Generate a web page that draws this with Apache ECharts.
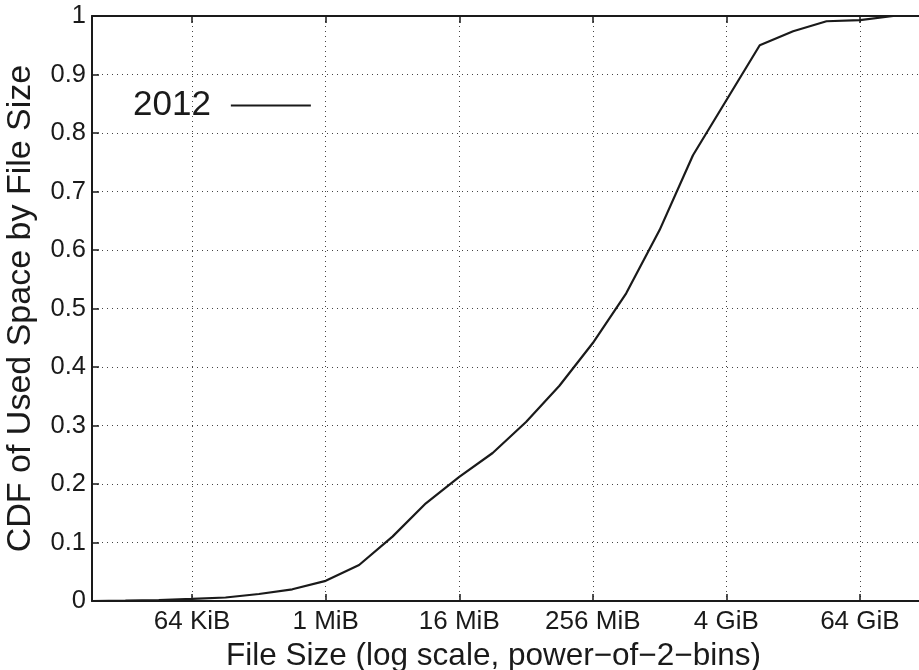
<!DOCTYPE html>
<html>
<head>
<meta charset="utf-8">
<script src="https://cdn.jsdelivr.net/npm/echarts@6/dist/echarts.min.js"></script>
<style>
  html, body { margin: 0; padding: 0; background: #fff; }
  #chart { width: 919px; height: 670px; }
</style>
</head>
<body>
<div id="chart"></div>
<script>
// File size bins as power-of-2 exponents (bytes = 2^exp)
const sizeExp = [13, 14, 15, 16, 17, 18, 19, 20, 21, 22, 23, 24, 25, 26, 27, 28, 29, 30, 31, 32, 33, 34, 35, 36, 37];
// CDF of used space by file size, 2012
const cdf2012 = [0, 0.0005, 0.0015, 0.0035, 0.006, 0.012, 0.020, 0.0345, 0.0615, 0.110, 0.167, 0.212, 0.253, 0.306, 0.368, 0.441, 0.526, 0.634, 0.762, 0.856, 0.950, 0.974, 0.991, 0.993, 1.0];
// X tick positions (exponents) and their labels
const tickExp = [16, 20, 24, 28, 32, 36];
const tickLabels = ['64 KiB', '1 MiB', '16 MiB', '256 MiB', '4 GiB', '64 GiB'];
const seriesName = '2012';

const FONT = '"Liberation Sans", Arial, Helvetica, sans-serif';
const INK = '#1a1a1a';

const chart = echarts.init(document.getElementById('chart'), null, { renderer: 'canvas' });

const gridLine = { show: true, lineStyle: { color: '#444', width: 1, type: [1, 4] } };

chart.setOption({
  animation: false,
  backgroundColor: '#fff',
  grid: { left: 92, right: 0, top: 16, bottom: 69, containLabel: false, outerBoundsMode: 'none' },
  legend: {
    show: true,
    data: [seriesName],
    left: 128,
    top: 83,
    align: 'right',
    icon: 'rect',
    itemWidth: 80,
    itemHeight: 2,
    itemStyle: { color: INK },
    textStyle: { fontFamily: FONT, fontSize: 35, color: INK, padding: [0, 15, 0, 0] }
  },
  xAxis: [
    {
      type: 'value',
      min: 13,
      max: 37.77,
      position: 'bottom',
      axisLine: { show: true, onZero: false, lineStyle: { color: INK, width: 2 } },
      axisTick: { show: true, inside: true, length: 7, customValues: tickExp, lineStyle: { color: INK, width: 1.5 } },
      axisLabel: {
        show: true,
        customValues: tickExp,
        margin: 8,
        fontFamily: FONT, fontSize: 26, color: INK,
        formatter: function (v) {
          const i = tickExp.indexOf(Math.round(v));
          return i >= 0 ? tickLabels[i] : '';
        }
      },
      splitLine: gridLine,
      name: 'File Size (log scale, power\u2212of\u22122\u2212bins)',
      nameLocation: 'middle',
      nameGap: 37,
      nameTextStyle: { fontFamily: FONT, fontSize: 31.5, color: INK, padding: [0, 24, 0, 0] }
    },
    {
      type: 'value',
      min: 13,
      max: 37.77,
      position: 'top',
      axisLine: { show: true, onZero: false, lineStyle: { color: INK, width: 2 } },
      axisTick: { show: true, inside: true, length: 7, customValues: tickExp, lineStyle: { color: INK, width: 1.5 } },
      axisLabel: { show: false },
      splitLine: { show: false }
    }
  ],
  yAxis: {
    type: 'value',
    min: 0,
    max: 1,
    interval: 0.1,
    axisLine: { show: true, lineStyle: { color: INK, width: 2 } },
    axisTick: { show: true, inside: true, length: 7, lineStyle: { color: INK, width: 1.5 } },
    axisLabel: {
      margin: 6,
      fontFamily: FONT, fontSize: 25.5, color: INK,
      formatter: function (v) {
        if (Math.abs(v) < 1e-9) return '0';
        if (Math.abs(v - 1) < 1e-9) return '1';
        return v.toFixed(1);
      }
    },
    splitLine: gridLine,
    name: 'CDF of Used Space by File Size',
    nameLocation: 'middle',
    nameGap: 54,
    nameTextStyle: { fontFamily: FONT, fontSize: 34, color: INK }
  },
  series: [
    {
      name: seriesName,
      type: 'line',
      xAxisIndex: 0,
      data: sizeExp.map((e, i) => [e, cdf2012[i]]),
      symbol: 'none',
      showSymbol: false,
      smooth: false,
      clip: false,
      lineStyle: { color: INK, width: 2.2 },
      itemStyle: { color: INK },
      z: 5
    }
  ]
});
</script>
</body>
</html>
